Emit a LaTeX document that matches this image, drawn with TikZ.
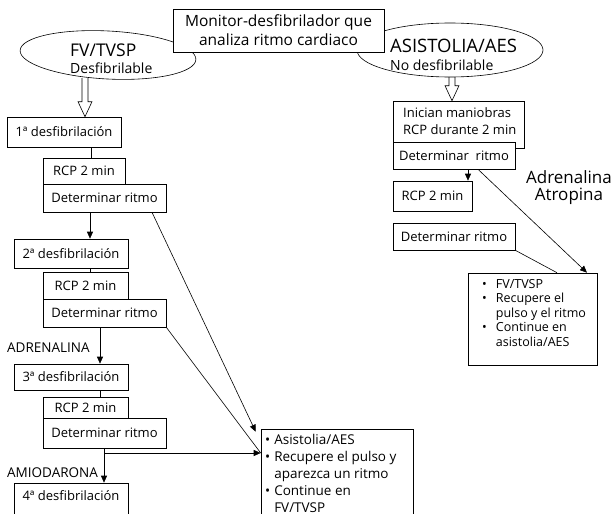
\documentclass[tikz,border=0pt]{standalone}
\usepackage{fontspec}
\setmainfont{Open Sans}
\usetikzlibrary{arrows.meta,shapes.geometric,calc}
\newcommand\fsz[2]{\fontsize{#1pt}{#2pt}\selectfont}
\newcommand\hollowarr[2]{\draw[hol] let \p1=(#1), \p2=(#2) in
  (\x1-3pt,\y1) -- (\x1-3pt,\y2+15pt) -- (\x1-7pt,\y2+15pt) -- (\x1,\y2)
  -- (\x1+7pt,\y2+15pt) -- (\x1+3pt,\y2+15pt) -- (\x1+3pt,\y1);}
\begin{document}
\begin{tikzpicture}[x=1pt,y=-1pt,
  box/.style={draw, fill=white, inner sep=0pt, line width=0.6pt, font=\fsz{13}{15}},
  ell/.style={ellipse, draw, inner sep=0pt, line width=0.6pt},
  arr/.style={line width=0.6pt, -{Triangle[length=7pt,width=6pt]}},
  ln/.style={line width=0.6pt},
  hol/.style={line width=0.6pt},
  lab/.style={inner sep=0pt, font=\fsz{13.5}{15}},
]
\useasboundingbox (0,0) rectangle (611,514);
% ellipses
\node[ell, minimum width=176pt, minimum height=48pt, rotate=-3] (e1) at (108,55) {};
\node[ell, minimum width=186pt, minimum height=54pt] (e2) at (450,50) {};
\node[inner sep=0pt, align=left, anchor=west, font=\fsz{14}{17}] (e1t) at (70,59)
  {{\fsz{17.5}{17}FV/TVSP}\\Desfibrilable};
\node[inner sep=0pt, align=left, anchor=west, font=\fsz{14}{18}] (e2t) at (390,55)
  {{\fsz{18.5}{18}ASISTOLIA/AES}\\No desfibrilable};
% monitor
\node[box, font=\fsz{15.5}{19}, align=center, minimum width=211pt, minimum height=43pt] (mon)
  at (278.5,30.5) {Monitor-desfibrilador que\\analiza ritmo cardiaco};
% left column
\node[box, minimum width=114pt, minimum height=30pt] (b1) at (64,132) {1ª desfibrilación};
\node[box, minimum width=82pt, minimum height=26pt] (r1) at (84,171) {RCP 2 min};
\node[box, minimum width=123pt, minimum height=28pt] (d1) at (104.5,198) {Determinar ritmo};
\node[box, minimum width=114pt, minimum height=29pt] (b2) at (71,253.5) {2ª desfibrilación};
\node[box, minimum width=85pt, minimum height=27pt] (r2) at (85.5,285.5) {RCP 2 min};
\node[box, minimum width=123pt, minimum height=28pt] (d2) at (104.5,313) {Determinar ritmo};
\node[box, minimum width=114pt, minimum height=26pt] (b3) at (71,377) {3ª desfibrilación};
\node[box, minimum width=85pt, minimum height=21pt] (r3) at (85.5,407.5) {RCP 2 min};
\node[box, minimum width=123pt, minimum height=30pt] (d3) at (104.5,433) {Determinar ritmo};
\node[box, minimum width=114pt, minimum height=44pt] (b4) at (71,505) {};
\node[inner sep=0pt, font=\fsz{13}{15}, anchor=north] at (b4.north) [yshift=-8pt] {4ª desfibrilación};
\node[lab, anchor=west] (adr) at (7,348) {ADRENALINA};
\node[lab, anchor=west] (ami) at (7,473) {AMIODARONA};
% left result box
\node[box, minimum width=152pt, minimum height=100pt] (res1) at (337,479) {};
\node[inner sep=0pt, anchor=north west, font=\fsz{13.5}{17}] (res1t) at (265,432)
  {\begin{tabular}{@{}l@{\hspace{4pt}}l@{}}
   • & Asistolia/AES\\
   • & Recupere el pulso y\\
     & aparezca un ritmo\\
   • & Continue en\\
     & FV/TVSP
   \end{tabular}};
% right column
\node[box, minimum width=131pt, minimum height=47pt] (in) at (458.5,124.5) {};
\node[inner sep=0pt, align=left, anchor=north west, font=\fsz{13}{17}] (intx) at (403,107)
  {Inician maniobras\\RCP durante 2 min};
\node[box, minimum width=122pt, minimum height=27pt] (dr1) at (454,155.5) {Determinar\ \ ritmo};
\node[box, minimum width=79pt, minimum height=30pt] (rr) at (432.5,196) {RCP 2 min};
\node[box, minimum width=122pt, minimum height=27pt] (dr2) at (454,236.5) {Determinar ritmo};
\node[box, minimum width=129pt, minimum height=92pt] (res2) at (532.5,319) {};
\node[inner sep=0pt, anchor=north west, font=\fsz{12.5}{14.5}] (res2t) at (482,278)
  {\begin{tabular}{@{}l@{\hspace{9pt}}l@{}}
   • & FV/TVSP\\
   • & Recupere el\\
     & pulso y el ritmo\\
   • & Continue en\\
     & asistolia/AES
   \end{tabular}};
\node[inner sep=0pt, align=center, font=\fsz{17}{17}] (adat) at (569,188) {Adrenalina\\Atropina};
% hollow arrows
\coordinate (h1) at (85,78);
\coordinate (h2) at (452,77);
\hollowarr{h1}{b1.north -| h1}
\hollowarr{h2}{in.north -| h2}
% connectors left
\draw[ln] (b1.south -| 91,0) -- (r1.north -| 91,0);
\draw[arr] (d1.south -| 90,0) -- (b2.north -| 90,0);
\draw[ln] (b2.south -| 90,0) -- (r2.north -| 90,0);
\draw[arr] (d2.south -| 100,0) -- (b3.north -| 100,0);
\draw[ln] (b3.south -| 100,0) -- (r3.north -| 100,0);
\draw[arr] (d3.south -| 104,0) -- (b4.north -| 104,0);
\coordinate (j3) at (104,453);
\draw[arr] (j3) -- (res1.west |- j3) ;
\draw[arr] (d1.south -| 152,0) -- ($(res1.north west)+(-5,3)$);
\draw[ln] (d2.south east) -- (res1.west |- j3);
% connectors right
\draw[arr] (dr1.south -| 468,0) -- (rr.north -| 468,0);
\draw[arr] (dr1.south -| 478,0) -- (res2.north -| 587,0);
\draw[ln] (dr2.south east) -- (res2.north -| 557,0);
\end{tikzpicture}
\end{document}
